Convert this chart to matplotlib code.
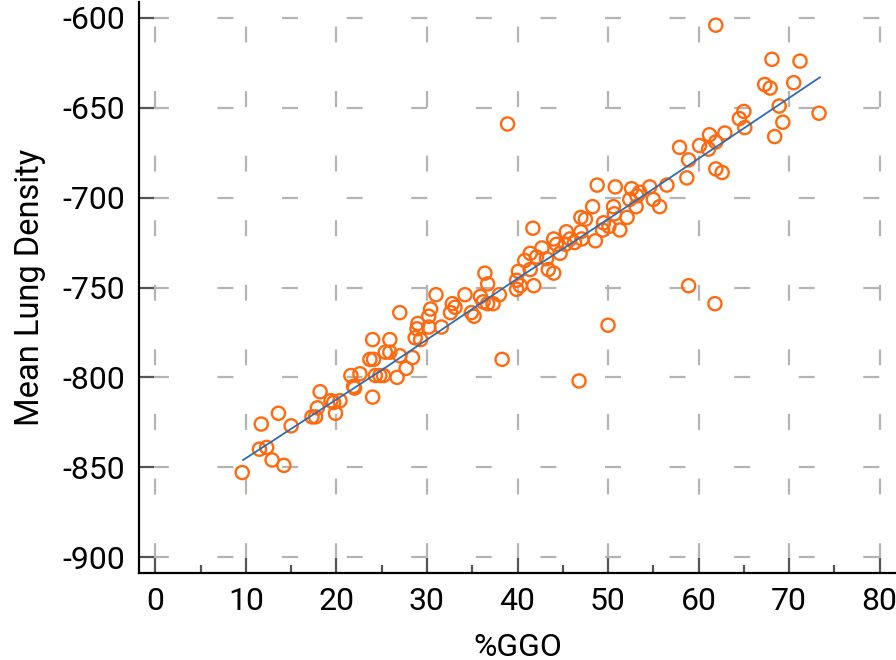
import matplotlib
matplotlib.use("Agg")
import matplotlib.pyplot as plt
from matplotlib.ticker import MultipleLocator

plt.rcParams['font.family'] = ['Roboto', 'DejaVu Sans']
plt.rcParams['lines.scale_dashes'] = False
plt.rcParams['axes.unicode_minus'] = False

# % GGO vs mean lung density
ggo = [9.6, 11.5, 12.3, 12.9, 14.2, 11.7, 13.6, 15.0, 17.3, 17.7,
       17.9, 19.9, 19.4, 20.4, 19.7, 18.2, 21.9, 22.0, 24.0, 21.6,
       22.6, 24.3, 24.8, 23.7, 24.1, 24.0, 25.2, 26.7, 27.7, 25.4,
       25.9, 27.0, 28.4, 25.9, 28.7, 29.3, 30.2, 29.0, 28.9, 31.6,
       30.4, 30.2, 27.0, 31.0, 32.8, 33.1, 32.6, 34.2, 34.9, 35.2,
       35.9, 36.2, 36.7, 37.3, 38.0, 36.4, 36.7, 39.9, 40.3, 39.9,
       41.8, 40.1, 41.4, 40.8, 41.4, 42.1, 43.2, 43.4, 44.0, 42.7,
       44.0, 44.3, 41.7, 45.4, 47.0, 45.8, 46.3, 47.1, 48.6, 45.3,
       44.7, 47.0, 47.5, 49.5, 50.1, 49.4, 51.3, 48.3, 50.6, 50.7,
       53.1, 52.1, 48.8, 50.8, 52.6, 53.5, 54.6, 56.5, 53.2, 52.4,
       55.0, 55.7, 57.9, 58.9, 58.7, 60.1, 61.1, 61.2, 62.9, 61.9,
       61.9, 62.6, 65.0, 64.5, 65.1, 68.4, 68.9, 69.3, 73.3, 67.3,
       67.9, 70.5, 68.1, 71.2, 61.9, 58.9, 61.8, 50.0, 38.3, 46.8,
       38.9]
density = [-853, -840, -839, -846, -849, -826, -820, -827, -822, -822,
           -817, -820, -813, -813, -814, -808, -805, -806, -811, -799,
           -798, -799, -799, -790, -790, -779, -799, -800, -795, -786,
           -786, -788, -789, -779, -778, -779, -772, -770, -773, -772,
           -762, -766, -764, -754, -759, -761, -764, -754, -764, -766,
           -755, -758, -759, -759, -754, -742, -748, -746, -749, -751,
           -749, -741, -740, -735, -731, -733, -734, -740, -742, -728,
           -723, -726, -717, -719, -719, -723, -725, -723, -724, -726,
           -731, -711, -712, -714, -716, -718, -718, -705, -705, -709,
           -705, -711, -693, -694, -695, -697, -694, -693, -699, -701,
           -701, -705, -672, -679, -689, -671, -673, -665, -664, -669,
           -684, -686, -652, -656, -661, -666, -649, -658, -653, -637,
           -639, -636, -623, -624, -604, -749, -759, -771, -790, -802,
           -659]

# fitted trend line
fit_x = [9.7, 25.0, 40.0, 50.0, 58.0, 73.4]
fit_y = [-846, -796, -745, -712, -685, -633]

fig = plt.figure(figsize=(8.96, 6.6), dpi=100)
ax = fig.add_axes([139 / 896, 87 / 660, (896 - 139) / 896, 571 / 660])

dash = (36.5, (11.5, 35.0))
ax.grid(True, which='major', color='#b4b4b4', linewidth=1.6, linestyle=dash)
ax.set_axisbelow(True)

ax.scatter(ggo, density, s=90, facecolors='none', edgecolors='#ff6a10',
           linewidths=1.7, zorder=3)
ax.plot(fit_x, fit_y, color='#2b6cb3', linewidth=1.3, zorder=4)

ax.set_xlim(-1.8, 81.8)
ax.set_ylim(-908.9, -591.1)
ax.xaxis.set_major_locator(MultipleLocator(10))
ax.xaxis.set_minor_locator(MultipleLocator(5))
ax.yaxis.set_major_locator(MultipleLocator(50))

for side in ['top', 'right']:
    ax.spines[side].set_visible(False)
for side in ['left', 'bottom']:
    ax.spines[side].set_linewidth(1.6)
    ax.spines[side].set_color('black')

ax.tick_params(axis='both', which='major', direction='in', length=10.5,
               width=1.6, color='#555555', labelsize=23, pad=10)
ax.tick_params(axis='x', which='minor', direction='in', length=5.5,
               width=1.6, color='#555555')
ax.tick_params(axis='y', which='minor', left=False)

ax.set_xlabel('%GGO', fontsize=23, labelpad=12)
ax.set_ylabel('Mean Lung Density', fontsize=23.5, labelpad=12)

fig.savefig('out.png', dpi=100)
